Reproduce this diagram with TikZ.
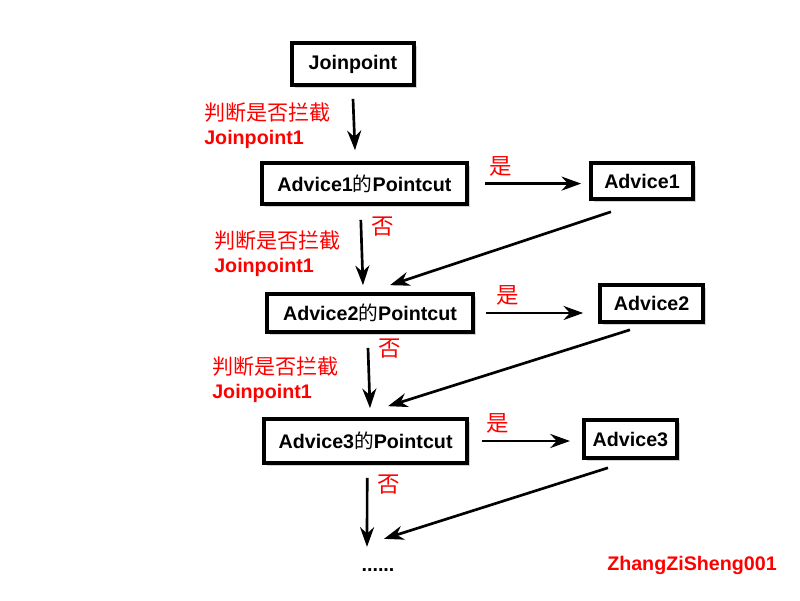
\documentclass[tikz,border=0pt]{standalone}
\usepackage{fontspec}
\setmainfont{Liberation Sans}
\newfontfamily\cjk{Noto Sans CJK SC}
\usepackage{xcolor}
\usetikzlibrary{arrows.meta,shadows}

\begin{document}
\begin{tikzpicture}[
  box/.style={draw,line width=2.6pt,fill=white,font=\fontsize{14}{16}\selectfont\bfseries,
    drop shadow={opacity=0.35,shadow xshift=2pt,shadow yshift=-2pt}},
  arr/.style={line width=1.9pt,-{Stealth[length=14pt,width=10pt]}},
  redtxt/.style={text=red,font=\fontsize{14}{17}\selectfont\bfseries},
  yesno/.style={text=red,font=\fontsize{16}{18}\selectfont\cjk\mdseries}
]
\useasboundingbox (0,0) rectangle (20,15);

\node [box,minimum width=3.05cm,minimum height=1.05cm] (jp) at (8.825,13.4) {Joinpoint};

\node [box,minimum width=5.12cm,minimum height=1.02cm] (pc1) at (9.11,10.41) {Advice1{\cjk\mdseries 的}Pointcut};
\node [box,minimum width=2.55cm,minimum height=0.9cm] (a1) at (16.05,10.475) {Advice1};

\node [box,minimum width=5.15cm,minimum height=0.95cm] (pc2) at (9.25,7.175) {Advice2{\cjk\mdseries 的}Pointcut};
\node [box,minimum width=2.58cm,minimum height=0.92cm] (a2) at (16.29,7.41) {Advice2};

\node [box,minimum width=5.08cm,minimum height=1.1cm] (pc3) at (9.14,3.975) {Advice3{\cjk\mdseries 的}Pointcut};
\node [box,minimum width=2.33cm,minimum height=0.95cm] (a3) at (15.76,4.025) {Advice3};

\node [font=\fontsize{14}{16}\selectfont\bfseries,inner sep=1pt] (more) at (9.45,0.75) {......};
\node [redtxt] (author) at (17.3,0.875) {ZhangZiSheng001};

% judge labels
\node [redtxt,align=left,anchor=west,inner sep=0pt] (judge0) at (5.1,11.85) {{\cjk\mdseries\fontsize{15}{17}\selectfont 判断是否拦截}\\Joinpoint1};
\node [redtxt,align=left,anchor=west,inner sep=0pt] (judge1) at (5.35,8.65) {{\cjk\mdseries\fontsize{15}{17}\selectfont 判断是否拦截}\\Joinpoint1};
\node [redtxt,align=left,anchor=west,inner sep=0pt] (judge2) at (5.3,5.5) {{\cjk\mdseries\fontsize{15}{17}\selectfont 判断是否拦截}\\Joinpoint1};

% down arrows
\draw [arr] ([yshift=-0.3cm]jp.south) -- ([xshift=-0.235cm,yshift=0.28cm]pc1.north);
\draw [arr] ([xshift=-0.09cm,yshift=-0.35cm]pc1.south) -- ([xshift=-0.175cm,yshift=0.175cm]pc2.north)
  node [yesno,pos=0.1,right=3pt] (no1) {否};
\draw [arr] ([xshift=-0.05cm,yshift=-0.35cm]pc2.south) -- ([xshift=0.11cm,yshift=0.225cm]pc3.north)
  node [yesno,pos=0.02,right=3pt] (no2) {否};
\draw [arr] ([xshift=0.04cm,yshift=-0.325cm]pc3.south) -- ([xshift=-0.275cm,yshift=0.5cm]more.north)
  node [yesno,pos=0.1,right=3pt] (no3) {否};

% yes arrows
\draw [arr,shorten <=0.42cm,shorten >=0.2cm] (pc1.east) -- (pc1.east -| a1.west)
  node [yesno,pos=0.27,above=1pt] (yes1) {是};
\draw [arr,shorten <=0.28cm,shorten >=0.375cm] (pc2.east) -- (pc2.east -| a2.west)
  node [yesno,pos=0.27,above=1pt] (yes2) {是};
\draw [arr,shorten <=0.33cm,shorten >=0.3cm] (pc3.east) -- (pc3.east -| a3.west)
  node [yesno,pos=0.25,above=1pt] (yes3) {是};

% back arrows
\draw [arr] ([xshift=-0.775cm,yshift=-0.275cm]a1.south) -- ([xshift=0.5cm,yshift=0.175cm]pc2.north);
\draw [arr] ([xshift=-0.54cm,yshift=-0.15cm]a2.south) -- ([xshift=0.56cm,yshift=0.275cm]pc3.north);
\draw [arr] ([xshift=-0.56cm,yshift=-0.2cm]a3.south) -- ([xshift=0.15cm,yshift=0.7cm]more.north);
\end{tikzpicture}
\end{document}
